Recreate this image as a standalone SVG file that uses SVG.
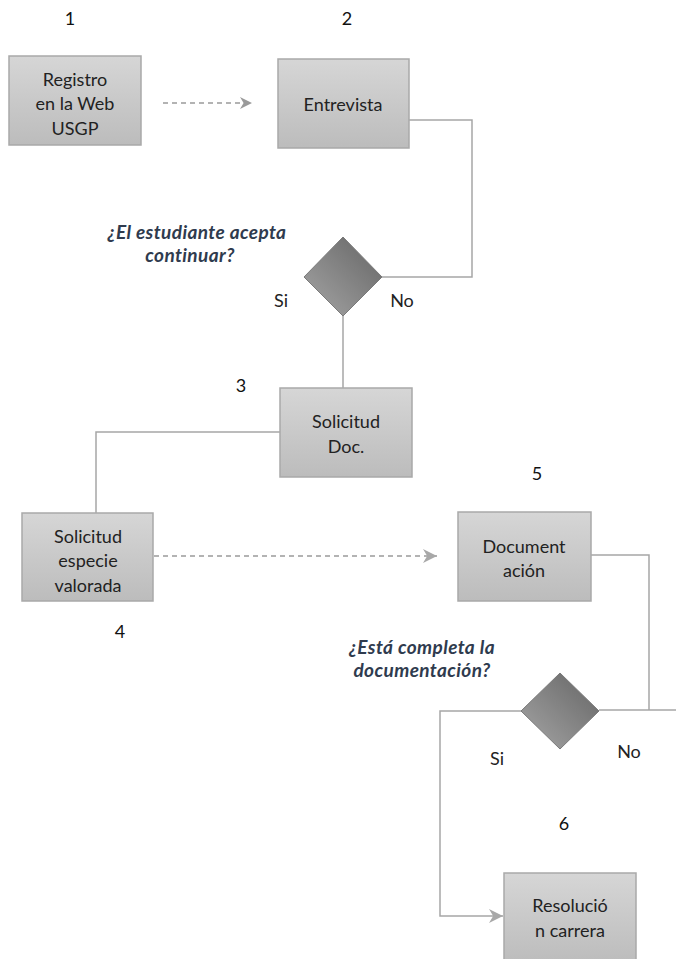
<svg xmlns="http://www.w3.org/2000/svg" width="676" height="959" viewBox="0 0 676 959">
<defs>
<linearGradient id="boxg" x1="0" y1="0" x2="0" y2="1">
<stop offset="0" stop-color="#d6d6d6"/>
<stop offset="1" stop-color="#bcbcbc"/>
</linearGradient>
<linearGradient id="diag" x1="0" y1="1" x2="1" y2="0">
<stop offset="0" stop-color="#a6a6a6"/>
<stop offset="1" stop-color="#646464"/>
</linearGradient>
<marker id="arr" viewBox="0 0 10 10" refX="10" refY="5" markerWidth="12" markerHeight="12" markerUnits="userSpaceOnUse" orient="auto">
<path d="M0,0 L10,5 L0,10 L3,5 Z" fill="#9a9a9a"/>
</marker>
<marker id="arr2" viewBox="0 0 10 10" refX="10" refY="5" markerWidth="14" markerHeight="14" markerUnits="userSpaceOnUse" orient="auto">
<path d="M0,0 L10,5 L0,10 L3,5 Z" fill="#a8a8a8"/>
</marker>
</defs>
<style>
.box{fill:url(#boxg);stroke:#a9a9a9;stroke-width:1.5}
.dia{fill:url(#diag);stroke:#7a7a7a;stroke-width:1}
.t{font-family:Lato,"Open Sans","Liberation Sans",sans-serif;font-size:18px;fill:#222;text-anchor:middle}
.n{font-family:Lato,"Open Sans","Liberation Sans",sans-serif;font-size:18px;fill:#111;text-anchor:middle}
.q{font-family:Lato,"Open Sans","Liberation Sans",sans-serif;font-size:19px;letter-spacing:0.4px;font-weight:bold;font-style:italic;fill:#2f3b4e;text-anchor:middle}
.c{fill:none;stroke:#a6a6a6;stroke-width:1.5}
.d{fill:none;stroke:#9a9a9a;stroke-width:1.5;stroke-dasharray:5,4}
</style>
<g id="connectors">
<line class="d" x1="163" y1="103" x2="252" y2="103" marker-end="url(#arr)"/>
<polyline class="c" points="409,120 472,120 472,277 382,277"/>
<line class="c" x1="343" y1="316" x2="343" y2="388"/>
<polyline class="c" points="280,432 96,432 96,513"/>
<line class="d" x1="154" y1="556" x2="437" y2="556" marker-end="url(#arr2)"/>
<polyline class="c" points="591,555 649,555 649,710"/>
<line class="c" x1="599" y1="710" x2="676" y2="710"/>
<polyline class="c" points="521,711 440,711 440,916 503,916" marker-end="url(#arr2)"/>
</g>
<g id="n1"><rect class="box" x="9" y="56" width="132" height="89"/>
<text class="t" x="75" y="86">Registro</text><text class="t" x="75" y="110">en la Web</text><text class="t" x="75" y="135">USGP</text></g>
<g id="n2"><rect class="box" x="278" y="59" width="131" height="89"/>
<text class="t" x="343" y="111">Entrevista</text></g>
<g id="d1"><polygon class="dia" points="343,237 382,277 343,316 304,277"/>
</g>
<g id="n3"><rect class="box" x="280" y="388" width="132" height="89"/>
<text class="t" x="346" y="428">Solicitud</text><text class="t" x="346" y="453">Doc.</text></g>
<g id="n4"><rect class="box" x="22" y="513" width="131" height="88"/>
<text class="t" x="88" y="543">Solicitud</text><text class="t" x="88" y="567">especie</text><text class="t" x="88" y="592">valorada</text></g>
<g id="n5"><rect class="box" x="458" y="512" width="133" height="89"/>
<text class="t" x="524" y="553">Document</text><text class="t" x="524" y="577">ación</text></g>
<g id="d2"><polygon class="dia" points="560,673 599,711 560,749 521,711"/>
</g>
<g id="n6"><rect class="box" x="504" y="873" width="132" height="90"/>
<text class="t" x="570" y="912">Resolució</text><text class="t" x="570" y="937">n carrera</text></g>
<g id="labels">
<text class="n" x="70" y="25">1</text>
<text class="n" x="347" y="25">2</text>
<text class="n" x="241" y="392">3</text>
<text class="n" x="120" y="638">4</text>
<text class="n" x="537" y="480">5</text>
<text class="n" x="564" y="830">6</text>
<text class="t" x="281" y="307">Si</text>
<text class="t" x="402" y="307">No</text>
<text class="t" x="497" y="765">Si</text>
<text class="t" x="629" y="758">No</text>
<text class="q" x="197" y="239">¿El estudiante acepta</text>
<text class="q" x="190" y="262">continuar?</text>
<text class="q" x="422" y="654">¿Está completa la</text>
<text class="q" x="422" y="677">documentación?</text>
</g>
</svg>
